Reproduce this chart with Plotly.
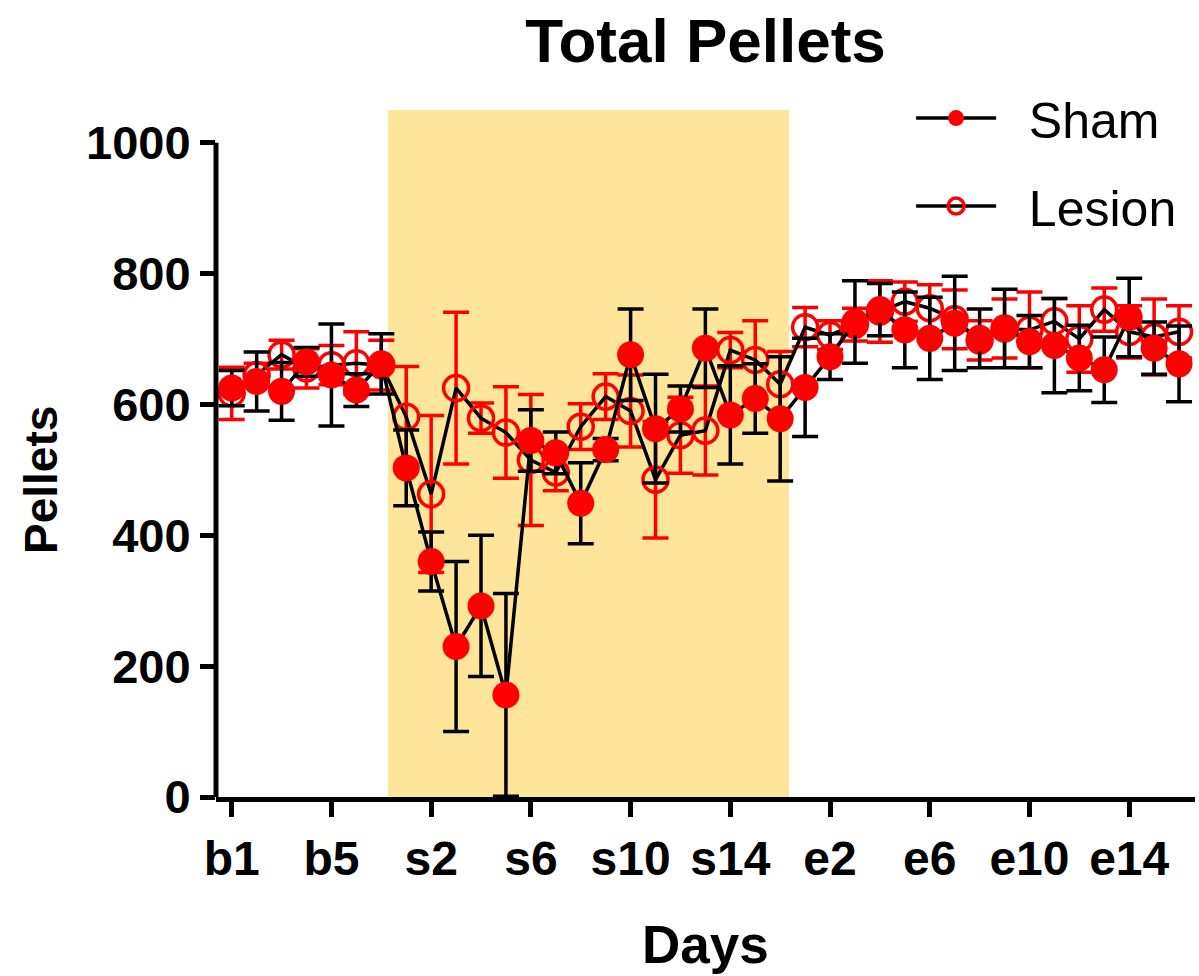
import plotly.graph_objects as go

days = ([f"b{i}" for i in range(1, 8)] + [f"s{i}" for i in range(1, 17)]
        + [f"e{i}" for i in range(1, 17)])

sham_mean = [625, 635, 620, 665, 645, 622, 662,
             503, 360, 230, 292, 156, 545, 526, 449, 531, 676, 563, 593, 686, 584, 609, 578,
             626, 673, 726, 745, 714, 701, 724, 701, 716, 696, 690, 671, 653, 733, 686, 662]
sham_sem = [27, 45, 44, 22, 78, 25, 46,
            58, 45, 130, 108, 155, 47, 32, 62, 17, 70, 83, 35, 60, 75, 53, 95,
            75, 35, 63, 40, 58, 63, 72, 45, 60, 40, 72, 50, 50, 60, 40, 58]

lesion_mean = [617, 645, 676, 655, 660, 663, 660,
               581, 463, 625, 579, 557, 515, 496, 566, 612, 590, 485, 553, 560, 683, 668, 631,
               718, 706, 722, 742, 757, 747, 730, 698, 716, 714, 727, 700, 745, 711, 703, 711]
lesion_sem = [40, 18, 22, 30, 30, 48, 38,
              77, 120, 116, 23, 70, 100, 28, 35, 35, 55, 89, 58, 68, 27, 60, 50,
              30, 22, 25, 47, 30, 36, 45, 30, 45, 58, 35, 51, 33, 40, 58, 40]

tick_days = ["b1", "b5", "s2", "s6", "s10", "s14", "e2", "e6", "e10", "e14"]
y_ticks = [0, 200, 400, 600, 800, 1000]

FONT = "Liberation Sans, Arial, Helvetica, sans-serif"

fig = go.Figure()

fig.add_trace(go.Scatter(
    x=days, y=lesion_mean, name="  Lesion", mode="lines+markers",
    line=dict(color="black", width=3.5),
    marker=dict(symbol="circle-open", size=25, color="#FF0000", line=dict(width=3.5, color="#FF0000")),
    error_y=dict(type="data", array=lesion_sem, visible=True, color="#FF0000", thickness=3.5, width=13),
    legendrank=2, legendgroup="l",
))
fig.add_trace(go.Scatter(
    x=days, y=sham_mean, name="  Sham", mode="lines+markers",
    line=dict(color="black", width=3.5),
    marker=dict(symbol="circle", size=27, color="#FF0000"),
    error_y=dict(type="data", array=sham_sem, visible=True, color="black", thickness=3.5, width=13),
    legendrank=1, legendgroup="s",
))

# shaded period
fig.add_shape(type="rect", xref="x", yref="y", x0=6.27, x1=22.35, y0=0, y1=1050,
              fillcolor="#FFE599", line_width=0, layer="below")
# y axis line only up to 1000
fig.add_shape(type="line", xref="paper", yref="y", x0=0, x1=0, y0=0, y1=1000,
              line=dict(color="black", width=5))

fig.update_layout(
    width=1199, height=976,
    paper_bgcolor="white", plot_bgcolor="white",
    margin=dict(l=216, r=4, t=110, b=179),
    title=dict(text="Total Pellets", x=0.5, xref="paper", xanchor="center",
               y=1 - 40 / 976, yref="container", yanchor="middle",
               font=dict(family=FONT, size=62, color="black", weight="bold")),
    showlegend=True,
    legend=dict(x=0.71, xanchor="left", y=1.045, yanchor="top", bgcolor="rgba(0,0,0,0)",
                font=dict(family=FONT, size=50, color="black"),
                itemwidth=80, tracegroupgap=20, traceorder="grouped"),
    xaxis=dict(type="category", range=[-0.63, 38.64], showgrid=False, zeroline=False,
               showline=True, linecolor="black", linewidth=5,
               ticks="outside", ticklen=15, tickwidth=5, tickcolor="black",
               tickmode="array", tickvals=tick_days, ticktext=tick_days,
               tickfont=dict(family=FONT, size=48, color="black", weight="bold")),
    yaxis=dict(range=[0, 1050], showgrid=False, zeroline=False, showline=False,
               ticks="outside", ticklen=15, tickwidth=5, tickcolor="black",
               tickmode="array", tickvals=y_ticks,
               tickfont=dict(family=FONT, size=47, color="black", weight="bold")),
    annotations=[
        dict(text="Pellets", xref="paper", yref="paper", x=-0.178, y=0.461,
             textangle=-90, showarrow=False, xanchor="center", yanchor="middle",
             font=dict(family=FONT, size=46, color="black", weight="bold")),
        dict(text="Days", xref="paper", yref="paper", x=0.5, y=-0.215,
             showarrow=False, xanchor="center", yanchor="middle",
             font=dict(family=FONT, size=53, color="black", weight="bold")),
    ],
)

fig.write_html("out.html")
